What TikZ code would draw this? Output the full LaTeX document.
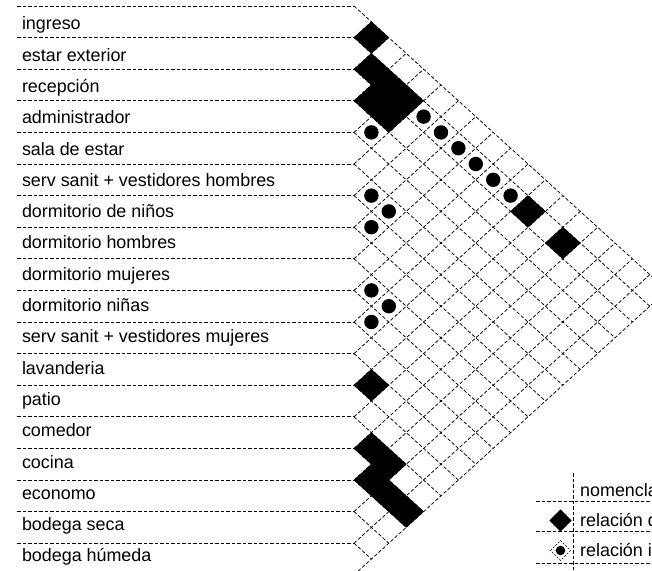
\documentclass[tikz,border=0pt]{standalone}
\usepackage{fontspec}
\setmainfont{Liberation Sans}
\newcommand\cellX[2]{354+(#2-#1)*17.4}
\newcommand\cellY[2]{6+(#1+#2+1)*15.8}
\begin{document}
\begin{tikzpicture}[x=1pt,y=-1pt,
  gridline/.style={draw=black, line width=0.75pt, dash pattern=on 3.5pt off 2pt},
  lbl/.style={anchor=base west, inner sep=0pt, font=\fontsize{17.9}{20}\selectfont},
  direct/.style={fill=black, draw=black, line width=0.3pt},
  indirect/.style={fill=black},
  legdiamond/.style={draw=black, line width=0.6pt, dash pattern=on 2pt off 1.5pt}]
\useasboundingbox (0,0) rectangle (652,570);
\clip (0,0) rectangle (652,570);
% row separator lines
\foreach \k in {0,...,18} {
  \draw[gridline] (17,{6+31.6*\k}) -- (354,{6+31.6*\k});
}
% grid: down-right lines
\foreach \k in {0,...,17} {
  \draw[gridline] (354,{6+31.6*\k}) -- ({354+(18-\k)*17.4},{6+(\k+18)*15.8});
}
% grid: up-right lines
\foreach \k in {1,...,18} {
  \draw[gridline] (354,{6+31.6*\k}) -- ({354+\k*17.4},{6+\k*15.8});
}
% labels
\foreach \t [count=\n from 0] in {ingreso, estar exterior, recepción, administrador, sala de estar, serv sanit + vestidores hombres, dormitorio de niños, dormitorio hombres, dormitorio mujeres, dormitorio niñas, serv sanit + vestidores mujeres, lavanderia, patio, comedor, cocina, economo, bodega seca, bodega húmeda} {
  \node[lbl] (l\n) at (21.8,{29.8+31.3*\n}) {\t};
}
% direct relations
\foreach \i/\j in {0/1, 1/2, 1/3, 2/3, 1/4, 2/4, 1/11, 1/13, 11/12, 13/14, 13/15, 14/15, 14/16, 14/17} {
  \fill[direct] ({\cellX{\i}{\j}-17.4},{\cellY{\i}{\j}}) -- ++(17.4,-15.8) -- ++(17.4,15.8) -- ++(-17.4,15.8) -- cycle;
}
% indirect relations
\foreach \i/\j in {3/4, 1/5, 1/6, 1/7, 1/8, 1/9, 1/10, 5/6, 5/7, 6/7, 8/9, 8/10, 9/10} {
  \fill[indirect] ({\cellX{\i}{\j}},{\cellY{\i}{\j}}) circle (7.2);
}
% legend
\draw[gridline] (536,501.7) -- (652,501.7);
\draw[gridline] (536,531.7) -- (652,531.7);
\draw[gridline] (536,563.3) -- (652,563.3);
\draw[gridline] (573.3,473.3) -- (573.3,570);
\fill[black] (549.3,520.5) -- (560.5,509.3) -- (571.7,520.5) -- (560.5,531.7) -- cycle;
\draw[legdiamond] (550.5,550.5) -- (560.5,540.5) -- (570.5,550.5) -- (560.5,560.5) -- cycle;
\fill[black] (560.5,550.5) circle (4.8);
\node[lbl] (nom) at (580,496.7) {nomenclatura};
\node[lbl] (rdir) at (580,526.6) {relación directa};
\node[lbl] (rind) at (580,556.6) {relación indirecta};
\end{tikzpicture}
\end{document}
